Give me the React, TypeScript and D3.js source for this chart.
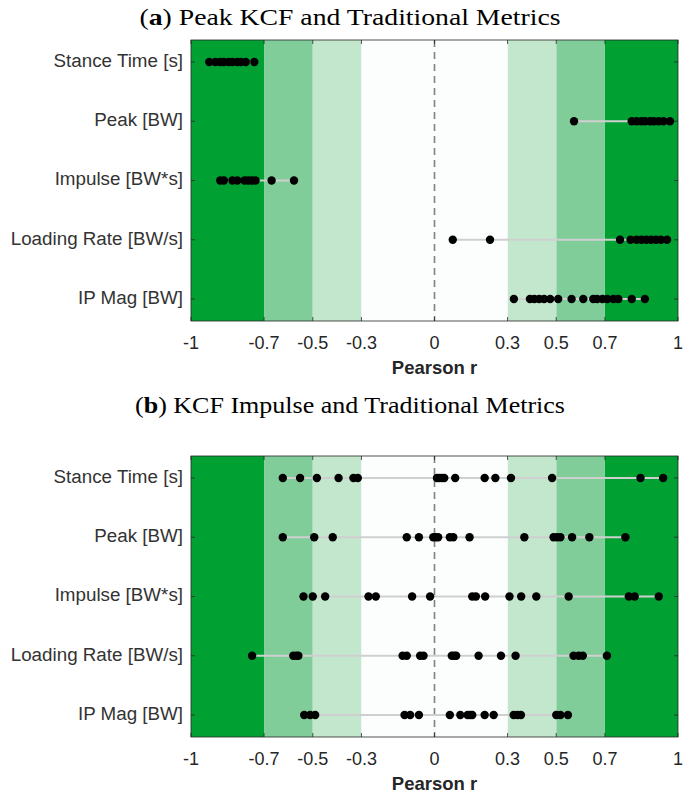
import * as d3 from "d3";
import React from "react";

// metrics shown on the y axis, top to bottom
const metrics = ["Stance Time [s]", "Peak [BW]", "Impulse [BW*s]", "Loading Rate [BW/s]", "IP Mag [BW]"];
const xTicks = [-1, -0.7, -0.5, -0.3, 0, 0.3, 0.5, 0.7, 1];
// |r| bands: strong, moderate, weak
const bands = [
  { lo: 0.7, hi: 1, color: "#00a032" },
  { lo: 0.5, hi: 0.7, color: "#80cd9a" },
  { lo: 0.3, hi: 0.5, color: "#c3e7cd" },
  { lo: 0, hi: 0.3, color: "#fcfefd" },
];

// (a) peak KCF vs traditional metrics
const peakStance = [-0.925, -0.9, -0.88, -0.865, -0.845, -0.83, -0.81, -0.795, -0.775, -0.74];
const peakPeak = [0.573, 0.81, 0.83, 0.85, 0.865, 0.885, 0.9, 0.92, 0.94, 0.967];
const peakImpulse = [-0.88, -0.865, -0.83, -0.81, -0.78, -0.765, -0.75, -0.735, -0.669, -0.577];
const peakLoading = [0.075, 0.228, 0.762, 0.805, 0.83, 0.85, 0.87, 0.89, 0.91, 0.93, 0.955];
const peakIpMag = [0.326, 0.392, 0.41, 0.43, 0.45, 0.475, 0.508, 0.563, 0.611, 0.652, 0.668, 0.69, 0.71, 0.735, 0.755, 0.81, 0.864];

// (b) KCF impulse vs traditional metrics
const impStance = [-0.623, -0.552, -0.483, -0.394, -0.333, -0.315, 0.01, 0.02, 0.03, 0.04, 0.085, 0.206, 0.25, 0.314, 0.483, 0.846, 0.939];
const impPeak = [-0.623, -0.494, -0.418, -0.114, -0.064, -0.005, 0.005, 0.015, 0.063, 0.077, 0.144, 0.369, 0.489, 0.503, 0.517, 0.565, 0.636, 0.784];
const impImpulse = [-0.538, -0.5, -0.449, -0.271, -0.241, -0.092, -0.018, 0.155, 0.17, 0.208, 0.308, 0.356, 0.418, 0.551, 0.798, 0.822, 0.921];
const impLoading = [-0.749, -0.58, -0.568, -0.559, -0.131, -0.114, -0.059, -0.045, 0.071, 0.081, 0.089, 0.181, 0.273, 0.333, 0.571, 0.592, 0.609, 0.708];
const impIpMag = [-0.535, -0.511, -0.49, -0.123, -0.1, -0.064, 0.063, 0.106, 0.136, 0.147, 0.155, 0.206, 0.243, 0.325, 0.341, 0.355, 0.5, 0.517, 0.548];

const panelA = [peakStance, peakPeak, peakImpulse, peakLoading, peakIpMag];
const panelB = [impStance, impPeak, impImpulse, impLoading, impIpMag];

const W = 692;
const H = 801;
const left = 191;
const right = 678;
const sans = "'Liberation Sans', Arial, Helvetica, sans-serif";

const x = d3.scaleLinear().domain([-1, 1]).range([left, right]);
const fmt = (v: number) => (v === 0 ? "0" : String(v));

interface PanelProps {
  top: number;
  bottom: number;
  series: number[][];
}

const Panel: React.FC<PanelProps> = ({ top, bottom, series }) => {
  const y = d3.scalePoint<string>().domain(metrics).range([top, bottom]).padding(0.37);
  const tick = 4;
  return (
    <g>
      {bands.flatMap((b, i) => [
        <rect key={"p" + i} x={x(b.lo)} y={top} width={x(b.hi) - x(b.lo)} height={bottom - top} fill={b.color} />,
        <rect key={"n" + i} x={x(-b.hi)} y={top} width={x(-b.lo) - x(-b.hi)} height={bottom - top} fill={b.color} />,
      ])}
      <line x1={x(0)} x2={x(0)} y1={top} y2={bottom} stroke="#808080" strokeWidth={1.6} strokeDasharray="7,5" />
      {series.map((vals, i) => {
        const cy = y(metrics[i])!;
        const [mn, mx] = d3.extent(vals) as [number, number];
        return (
          <g key={i}>
            <line x1={x(mn)} x2={x(mx)} y1={cy} y2={cy} stroke="#cfcfcf" strokeWidth={2} />
            {vals.map((v, j) => (
              <circle key={j} cx={x(v)} cy={cy} r={4.2} fill="#000" />
            ))}
          </g>
        );
      })}
      <rect x={left} y={top} width={right - left} height={bottom - top} fill="none" stroke="#262626" strokeWidth={0.8} />
      {xTicks.map((t) => (
        <g key={t}>
          <line x1={x(t)} x2={x(t)} y1={bottom} y2={bottom - tick} stroke="#262626" strokeWidth={0.8} />
          <line x1={x(t)} x2={x(t)} y1={top} y2={top + tick} stroke="#262626" strokeWidth={0.8} />
          <text x={x(t)} y={bottom + 23} textAnchor="middle" fontFamily={sans} fontSize={18} fill="#262626" dominantBaseline="middle">
            {fmt(t)}
          </text>
        </g>
      ))}
      {metrics.map((m) => (
        <g key={m}>
          <line x1={left} x2={left + tick} y1={y(m)} y2={y(m)} stroke="#262626" strokeWidth={0.8} />
          <line x1={right} x2={right - tick} y1={y(m)} y2={y(m)} stroke="#262626" strokeWidth={0.8} />
          <text x={left - 8} y={y(m)} textAnchor="end" dominantBaseline="middle" fontFamily={sans} fontSize={18.8} fill="#333">
            {m}
          </text>
        </g>
      ))}
      <text x={x(0)} y={bottom + 48} textAnchor="middle" dominantBaseline="middle" fontFamily={sans} fontSize={18.5} fontWeight="bold" fill="#262626">
        Pearson r
      </text>
    </g>
  );
};

const Title: React.FC<{ y: number; letter: string; text: string; len: number }> = ({ y, letter, text, len }) => (
  <text x={350} y={y} textAnchor="middle" fontFamily="'Liberation Serif', 'Times New Roman', serif" fontSize={24} fill="#000" textLength={len} lengthAdjust="spacingAndGlyphs">
    (<tspan fontWeight="bold">{letter}</tspan>) {text}
  </text>
);

export default function App() {
  return (
    <div style={{ position: "absolute", left: 0, top: 0 }}>
      <svg width={W} height={H} style={{ display: "block", background: "#fff" }}>
        <Title y={25} letter="a" text="Peak KCF and Traditional Metrics" len={421} />
        <Panel top={40} bottom={321} series={panelA} />
        <Title y={413} letter="b" text="KCF Impulse and Traditional Metrics" len={430} />
        <Panel top={456} bottom={737} series={panelB} />
      </svg>
    </div>
  );
}
